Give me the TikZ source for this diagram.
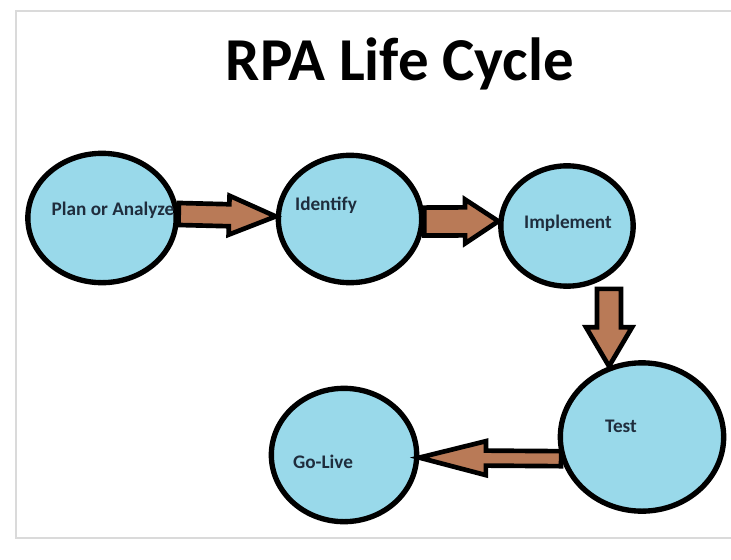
\documentclass[tikz,border=0pt]{standalone}
\usepackage{fontspec}
\setmainfont{Carlito}
\usetikzlibrary{calc,shapes.geometric}

\definecolor{stagefill}{HTML}{99D9EA}
\definecolor{flowfill}{HTML}{B97A57}
\definecolor{stagetext}{HTML}{1F2D3D}
\definecolor{framegray}{HTML}{DADADA}

\tikzset{
  stage/.style={ellipse, draw=black, line width=1.6mm, fill=stagefill},
  lbl/.style={anchor=base, inner sep=0pt, text=stagetext,
              font=\fontsize{16.4}{19}\selectfont\bfseries},
  flow/.style={draw=black, line width=1.4mm, fill=flowfill, line join=miter},
}

% fat arrow: from, to, shaft half width, head half width, head length
\newcommand\blockarrow[5]{%
  \coordinate (hb) at ($(#2)!#5!(#1)$);
  \filldraw[flow] ($(#1)!#3!90:(#2)$) -- ($(hb)!#3!90:(#2)$)
    -- ($(hb)!#4!90:(#2)$) -- (#2) -- ($(hb)!#4!-90:(#2)$)
    -- ($(hb)!#3!-90:(#2)$) -- ($(#1)!#3!-90:(#2)$) -- cycle;
}

\begin{document}
\begin{tikzpicture}[x=0.03cm, y=-0.03cm]
  \useasboundingbox (0,0) rectangle (731,559);
  \draw[framegray, line width=0.5mm] (731,11) -- (16,11) -- (16,538) -- (731,538);

  \node[anchor=base, inner sep=0pt, font=\fontsize{52}{58}\selectfont\bfseries]
    (title) at (400,80) {RPA Life Cycle};

  % stages
  \node[stage, minimum width=4.45cm, minimum height=3.88cm] (plan)      at (102,218) {};
  \node[stage, minimum width=4.3cm,  minimum height=3.82cm] (identify)  at (350,219) {};
  \node[stage, minimum width=3.97cm, minimum height=3.61cm] (implement) at (567,226) {};
  \node[stage, minimum width=4.9cm,  minimum height=4.45cm] (test)      at (642,437) {};
  \node[stage, minimum width=4.36cm, minimum height=4.0cm]  (golive)    at (344,455) {};

  % arrows
  \blockarrow{plan.3}{identify.178}{0.33cm}{0.585cm}{1.4cm}
  \blockarrow{identify.-2}{implement.176}{0.42cm}{0.66cm}{1.0cm}
  \blockarrow{implement.south -| test.115}{test.115}{0.36cm}{0.69cm}{1.17cm}
  \blockarrow{test.195}{golive.-2}{0.225cm}{0.51cm}{2.0cm}

  \node[lbl] (planlbl)      at (113,215) {Plan or Analyze};
  \node[lbl] (identifylbl)  at (326,210) {Identify};
  \node[lbl] (implementlbl) at (568,228) {Implement};
  \node[lbl] (testlbl)      at (621,432) {Test};
  \node[lbl] (golivelbl)    at (323,468) {Go-Live};
\end{tikzpicture}
\end{document}
